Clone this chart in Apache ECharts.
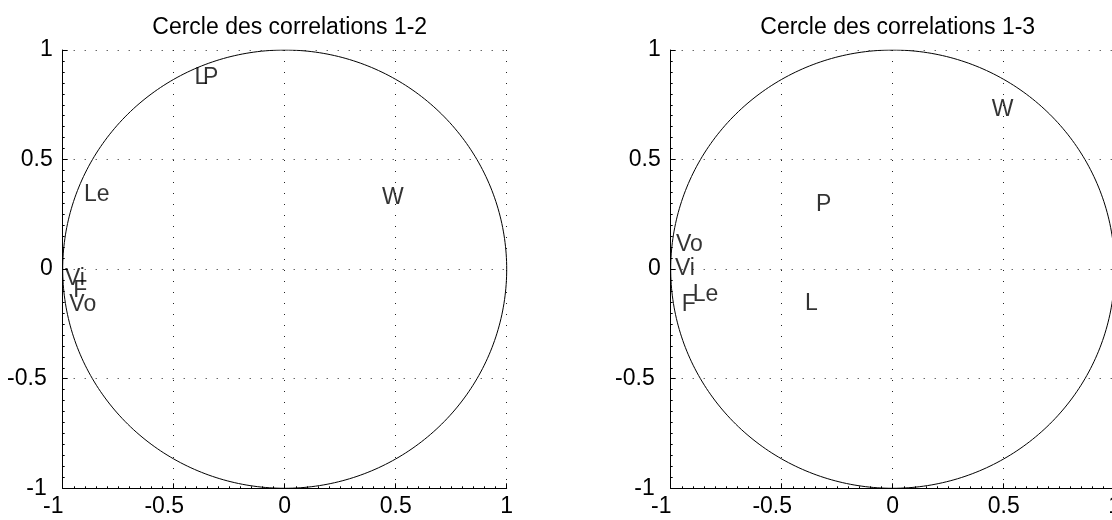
<!DOCTYPE html>
<html>
<head>
<meta charset="utf-8">
<script src="https://cdn.jsdelivr.net/npm/echarts@6/dist/echarts.min.js"></script>
<style>html,body{margin:0;padding:0;background:#fff}#c{width:1112px;height:520px}</style>
</head>
<body>
<div id="c"></div>
<script>
// Variables (labels) and coordinates
const titles = ['Cercle des correlations 1-2', 'Cercle des correlations 1-3'];
const names12 = ['L', 'P', 'Le', 'W', 'Vi', 'F', 'Vo'];
const x12 = [-0.406, -0.368, -0.904, 0.438, -0.990, -0.952, -0.970];
const y12 = [0.874, 0.874, 0.342, 0.326, -0.042, -0.096, -0.161];
const names13 = ['W', 'P', 'Vo', 'Vi', 'F', 'Le', 'L'];
const x13 = [0.446, -0.345, -0.976, -0.981, -0.950, -0.901, -0.395];
const y13 = [0.726, 0.295, 0.113, 0.003, -0.161, -0.117, -0.157];
const tickValues = [-1, -0.5, 0, 0.5, 1];

// unit circle guide (geometric reference, not data)
const circle = [];
for (let i = 0; i <= 360; i++) {
  const a = i * Math.PI / 180;
  circle.push([Math.cos(a), Math.sin(a)]);
}

const FONT = 'Liberation Sans';
const FS = 23;
const gridStyle = { show: true, lineStyle: { color: '#222', width: 1, type: [1, 10] } };

function xAxis(gi) {
  return {
    type: 'value', gridIndex: gi, min: -1, max: 1, interval: 0.5,
    axisLine: { show: true, onZero: false, lineStyle: { color: '#000', width: 1 } },
    axisTick: { show: true, inside: true, length: 5, lineStyle: { color: '#000' } },
    minorTick: { show: true, splitNumber: 10, length: 2, lineStyle: { color: '#000' } },
    splitLine: gridStyle,
    axisLabel: {
      margin: 7, color: '#000', fontFamily: FONT, fontSize: FS,
      formatter: v => v < 0 ? '{n|' + v + '}' : '{p|' + v + '}',
      rich: {
        n: { padding: [0, 19, 0, 0], fontFamily: FONT, fontSize: FS, color: '#000' },
        p: { fontFamily: FONT, fontSize: FS, color: '#000' }
      }
    }
  };
}
function yAxis(gi) {
  return {
    type: 'value', gridIndex: gi, min: -1, max: 1, interval: 0.5,
    axisLine: { show: true, onZero: false, lineStyle: { color: '#000', width: 1 } },
    axisTick: { show: true, inside: true, length: 5, lineStyle: { color: '#000' } },
    minorTick: { show: true, splitNumber: 10, length: 2, lineStyle: { color: '#000' } },
    splitLine: gridStyle,
    axisLabel: {
      margin: 10, color: '#000', fontFamily: FONT, fontSize: FS,
      formatter: v => v < 0 ? '{n|' + v + '}' : '{p|' + v + '}',
      rich: {
        n: { padding: [0, 6, 0, 0], fontFamily: FONT, fontSize: FS, color: '#000' },
        p: { fontFamily: FONT, fontSize: FS, color: '#000' }
      }
    }
  };
}
function labels(names, xs, ys, gi) {
  return {
    type: 'scatter', xAxisIndex: gi, yAxisIndex: gi, symbolSize: 0,
    data: names.map((n, i) => ({ name: n, value: [xs[i], ys[i]] })),
    label: {
      show: true, position: [0, 0], align: 'left', verticalAlign: 'middle',
      formatter: p => p.name, color: '#000', fontFamily: FONT, fontSize: FS
    },
    silent: true, animation: false
  };
}
function circ(gi) {
  return {
    type: 'line', xAxisIndex: gi, yAxisIndex: gi, data: circle, showSymbol: false,
    symbol: 'none', lineStyle: { color: '#000', width: 1 }, silent: true, animation: false
  };
}

const chart = echarts.init(document.getElementById('c'), null, { renderer: 'canvas' });
chart.setOption({
  backgroundColor: '#fff',
  animation: false,
  title: [
    { text: titles[0], left: 284.7, top: 11, textAlign: 'center',
      textStyle: { fontFamily: FONT, fontSize: FS, fontWeight: 'normal', color: '#000' } },
    { text: titles[1], left: 892.7, top: 11, textAlign: 'center',
      textStyle: { fontFamily: FONT, fontSize: FS, fontWeight: 'normal', color: '#000' } }
  ],
  grid: [
    { left: 62.7, top: 50, width: 444, height: 438.3, outerBoundsMode: 'none', containLabel: false },
    { left: 670.7, top: 50, width: 444, height: 438.3, outerBoundsMode: 'none', containLabel: false }
  ],
  xAxis: [xAxis(0), xAxis(1)],
  yAxis: [yAxis(0), yAxis(1)],
  series: [circ(0), circ(1), labels(names12, x12, y12, 0), labels(names13, x13, y13, 1)]
});
</script>
</body>
</html>
